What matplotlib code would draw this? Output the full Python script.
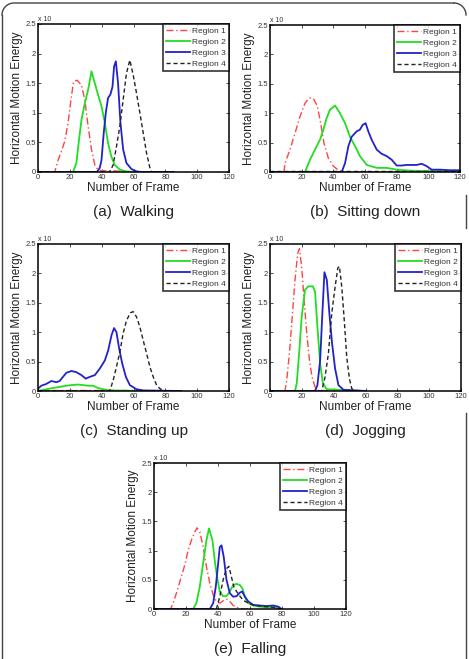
import matplotlib
matplotlib.use("Agg")
import matplotlib.pyplot as plt
import numpy as np
from matplotlib.lines import Line2D

plt.rcParams['font.family'] = ['Liberation Sans', 'DejaVu Sans']

W, H = 469, 659

labels = ["Region 1", "Region 2", "Region 3", "Region 4"]
captions = ["(a)  Walking", "(b)  Sitting down", "(c)  Standing up", "(d)  Jogging", "(e)  Falling"]
xticks = [0, 20, 40, 60, 80, 100, 120]
yticks = [0, 0.5, 1, 1.5, 2, 2.5]
ytick_labels = ["0", "0.5", "1", "1.5", "2", "2.5"]

# values in units of 10^4
# (a) walking
walk_r1_x = [0, 10.5, 12.6, 14.7, 16.8, 18.9, 21, 22.4, 24.5, 27.3, 29.4, 31.5, 33.6, 35.7, 37.8, 42, 48, 55, 58]
walk_r1_y = [0, 0, 0.2, 0.35, 0.52, 0.83, 1.28, 1.53, 1.55, 1.47, 1.22, 0.77, 0.38, 0.12, 0.03, 0.02, 0.02, 0, 0]
walk_r2_x = [0, 22, 24.1, 25.8, 27.3, 29.4, 31.5, 33.6, 35.7, 37.8, 39.9, 42, 44, 46.1, 48.2, 51.4, 55.6, 60, 85]
walk_r2_y = [0, 0, 0.15, 0.55, 0.88, 1.16, 1.39, 1.70, 1.5, 1.30, 1.11, 0.83, 0.49, 0.26, 0.12, 0.04, 0.01, 0, 0]
walk_r3_x = [0, 37, 38.8, 39.9, 41.3, 42.6, 44, 45.5, 46.8, 47.8, 48.9, 50.3, 51.8, 53.5, 55.6, 58.7, 61.9, 65, 85]
walk_r3_y = [0, 0, 0.07, 0.2, 0.66, 1.0, 1.25, 1.31, 1.44, 1.78, 1.87, 1.5, 0.83, 0.38, 0.15, 0.05, 0.01, 0, 0]
walk_r4_x = [0, 45.1, 47.2, 49.3, 51.4, 53.5, 55.6, 57.7, 59.8, 61.9, 64, 66.1, 68.2, 70.3, 71.3, 85]
walk_r4_y = [0, 0, 0.12, 0.43, 0.77, 1.22, 1.67, 1.89, 1.64, 1.33, 1.0, 0.66, 0.32, 0.07, 0, 0]

# (b) sitting down
sit_r1_x = [0, 8.8, 9.5, 12.6, 15.8, 18.9, 22.1, 24.8, 27.4, 29.9, 32, 34.1, 36.8, 40, 43.2, 46, 120]
sit_r1_y = [0, 0, 0.15, 0.38, 0.66, 0.94, 1.17, 1.26, 1.25, 1.12, 0.83, 0.49, 0.24, 0.1, 0.03, 0, 0]
sit_r2_x = [0, 22.1, 25.3, 28.4, 31.6, 33.7, 35.8, 37.9, 41.1, 44.2, 47.4, 50.5, 53.7, 56.8, 61.1, 67.4, 73.7, 80, 90.5, 120]
sit_r2_y = [0, 0, 0.21, 0.38, 0.55, 0.72, 0.92, 1.06, 1.13, 1.0, 0.83, 0.6, 0.44, 0.27, 0.12, 0.07, 0.07, 0.04, 0.02, 0.01]
sit_r3_x = [0, 45.3, 47.4, 49.5, 51.6, 54.7, 56.8, 58.5, 60.4, 62.1, 64.2, 67.4, 70.5, 73.7, 76.8, 80, 83.2, 86.3,
            89.5, 92.6, 95.8, 98.9, 102.1, 107.4, 113.7, 120]
sit_r3_y = [0, 0, 0.15, 0.44, 0.6, 0.69, 0.72, 0.8, 0.83, 0.69, 0.55, 0.38, 0.31, 0.27, 0.21, 0.11, 0.11, 0.12,
            0.12, 0.12, 0.14, 0.1, 0.04, 0.04, 0.03, 0.03]
sit_r4_x = [0, 120]
sit_r4_y = [0.01, 0.01]

# (c) standing up
stand_r1_x = [0, 60]
stand_r1_y = [0.01, 0.01]
stand_r2_x = [0, 5.2, 9.4, 13.6, 17.8, 21, 25.2, 28.3, 31.5, 34.6, 37.8, 40.9, 45.1, 65]
stand_r2_y = [0, 0.03, 0.05, 0.07, 0.09, 0.10, 0.11, 0.1, 0.09, 0.09, 0.05, 0.03, 0.01, 0]
stand_r3_x = [0, 2.1, 5.2, 8.4, 11.5, 13.6, 15.7, 17.8, 21, 24.1, 27.3, 30, 32.5, 35.7, 38.8, 42, 44.1, 46.2,
              47.8, 49.3, 51, 52.9, 55.2, 57.7, 61.9, 66.1, 90]
stand_r3_y = [0.04, 0.09, 0.12, 0.17, 0.15, 0.17, 0.24, 0.31, 0.34, 0.32, 0.27, 0.21, 0.24, 0.27, 0.38, 0.52,
              0.69, 0.95, 1.07, 1.0, 0.72, 0.47, 0.24, 0.1, 0.03, 0.01, 0]
stand_r4_x = [0, 45.1, 47.2, 49.3, 51.4, 53.5, 55.6, 58.1, 59.8, 61.9, 64, 66.1, 68.2, 70.3, 72.4, 74.5, 76.6, 78.7, 80]
stand_r4_y = [0, 0, 0.18, 0.41, 0.66, 0.98, 1.2, 1.33, 1.35, 1.26, 1.09, 0.86, 0.64, 0.41, 0.24, 0.1, 0.04, 0.01, 0]

# (d) jogging
jog_r1_x = [0, 9.4, 10.5, 12.2, 13.8, 15.7, 17.4, 18.5, 19.9, 21.4, 23.1, 24.8, 26.4, 28.3, 30.4, 40]
jog_r1_y = [0, 0, 0.18, 0.64, 1.2, 1.89, 2.34, 2.42, 2.11, 1.55, 0.98, 0.52, 0.24, 0.07, 0.01, 0]
jog_r2_x = [0, 15.7, 16.8, 18.3, 19.9, 22, 24.1, 26.9, 28.3, 29.8, 31.5, 33.2, 35.7, 60]
jog_r2_y = [0, 0, 0.13, 0.64, 1.26, 1.72, 1.78, 1.78, 1.69, 1.09, 0.47, 0.13, 0.03, 0]
jog_r3_x = [0, 28.3, 29.8, 31.5, 32.9, 34.2, 35.7, 37.3, 39, 40.9, 43, 46.2, 60]
jog_r3_y = [0, 0, 0.1, 0.52, 1.32, 2.02, 1.89, 1.32, 0.81, 0.38, 0.1, 0.02, 0]
jog_r4_x = [0, 32.5, 34.6, 36.7, 38.8, 40.9, 42.6, 43.6, 45.1, 46.8, 48.2, 49.9, 51.4, 53]
jog_r4_y = [0, 0, 0.24, 0.64, 1.32, 1.77, 2.09, 2.12, 1.77, 1.15, 0.58, 0.21, 0.04, 0]

# (e) falling
fall_r1_x = [0, 10.4, 11.9, 14, 16.5, 19.2, 21.3, 23.4, 25.5, 26.9, 28.6, 30.7, 32.8, 34.9, 37, 39, 41.1, 43.2,
             45.3, 47.4, 49.5, 52.6, 56, 60]
fall_r1_y = [0, 0, 0.1, 0.27, 0.5, 0.75, 1.0, 1.18, 1.32, 1.39, 1.32, 1.07, 0.72, 0.44, 0.24, 0.13, 0.1, 0.14,
             0.17, 0.13, 0.06, 0.02, 0, 0]
fall_r2_x = [0, 24.4, 26.5, 28.6, 30.7, 32.8, 34.4, 36.5, 38.2, 39.7, 41.1, 43.2, 45.3, 47.4, 49.5, 51.6, 53.7,
             55.3, 56.8, 58.9, 62, 66.2, 70.4, 74.5, 79.7]
fall_r2_y = [0, 0, 0.1, 0.38, 0.78, 1.18, 1.38, 1.18, 0.78, 0.5, 0.3, 0.22, 0.22, 0.3, 0.41, 0.43, 0.41,
             0.35, 0.21, 0.1, 0.06, 0.04, 0.03, 0.03, 0]
fall_r3_x = [0, 34.9, 37, 38.6, 40.1, 41.1, 42.2, 43.6, 45.3, 47.4, 49.5, 51.6, 53.7, 55.1, 56.8, 58.9, 62,
             66.2, 70.4, 74.5, 77.7, 79.7]
fall_r3_y = [0, 0, 0.1, 0.38, 0.78, 1.06, 1.09, 0.89, 0.5, 0.27, 0.21, 0.22, 0.28, 0.3, 0.21, 0.13, 0.07,
             0.06, 0.05, 0.06, 0.04, 0]
fall_r4_x = [0, 39, 41.1, 43.2, 45.3, 46.8, 48.4, 49.9, 51.6, 53.7, 55.7, 58.9, 62, 66.2, 70.4, 74.5, 79.7]
fall_r4_y = [0, 0, 0.21, 0.5, 0.69, 0.73, 0.55, 0.38, 0.3, 0.22, 0.15, 0.1, 0.07, 0.05, 0.04, 0.03, 0]

panels = [
    [(walk_r1_x, walk_r1_y), (walk_r2_x, walk_r2_y), (walk_r3_x, walk_r3_y), (walk_r4_x, walk_r4_y)],
    [(sit_r1_x, sit_r1_y), (sit_r2_x, sit_r2_y), (sit_r3_x, sit_r3_y), (sit_r4_x, sit_r4_y)],
    [(stand_r1_x, stand_r1_y), (stand_r2_x, stand_r2_y), (stand_r3_x, stand_r3_y), (stand_r4_x, stand_r4_y)],
    [(jog_r1_x, jog_r1_y), (jog_r2_x, jog_r2_y), (jog_r3_x, jog_r3_y), (jog_r4_x, jog_r4_y)],
    [(fall_r1_x, fall_r1_y), (fall_r2_x, fall_r2_y), (fall_r3_x, fall_r3_y), (fall_r4_x, fall_r4_y)],
]

styles = [
    dict(color='#ff4444', ls=(0, (5, 2, 1, 2)), lw=1.0),
    dict(color='#22dd22', ls='-', lw=1.3),
    dict(color='#2222cc', ls='-', lw=1.3),
    dict(color='#222222', ls=(0, (3, 2)), lw=1.0),
]

# axes boxes in pixels: left, top, right, bottom
boxes = [(38, 24, 229, 172), (270, 25, 460, 172), (38, 244, 229, 391),
         (270, 244, 461, 391), (154, 463, 346, 609)]

fig = plt.figure(figsize=(W / 100, H / 100), dpi=100)

for i in range(5):
    l, t, r, b = boxes[i]
    ax = fig.add_axes([l / W, 1 - b / H, (r - l) / W, (b - t) / H])
    for (x, y), st, lab in zip(panels[i], styles, labels):
        ax.plot(x, y, label=lab, **st)
    ax.set_xlim(0, 120)
    ax.set_ylim(0, 2.5)
    ax.set_xticks(xticks)
    ax.set_yticks(yticks)
    ax.set_yticklabels(ytick_labels)
    ax.tick_params(direction='in', top=True, right=True, length=2.5, width=0.6,
                   labelsize=5.5, colors='#333333', pad=1.5)
    for s in ax.spines.values():
        s.set_linewidth(1.1)
    ax.set_xlabel("Number of Frame", fontsize=8.5, labelpad=1, color='#222222')
    ax.set_ylabel("Horizontal Motion Energy", fontsize=8.5, labelpad=2, color='#222222')
    ax.text(0.0, 1.01, "x 10", transform=ax.transAxes, fontsize=5, ha='left', va='bottom', color='#333333')
    leg = ax.legend(loc='upper right', prop={'family': 'Liberation Sans', 'size': 6}, borderaxespad=0,
                    frameon=True, fancybox=False, handlelength=2.8, handletextpad=0.3,
                    labelspacing=0.38, borderpad=0.35)
    leg.get_frame().set_edgecolor('black')
    leg.get_frame().set_linewidth(1.2)
    for txt in leg.get_texts():
        txt.set_color('#333333')
    cx = (l + r) / 2 / W
    fig.text(cx, 1 - (b + 40) / H, captions[i], fontsize=11, ha='center', va='center', color='#222222')

# scanned figure border
def fline(xs, ys):
    fig.add_artist(Line2D(np.array(xs) / W, 1 - np.array(ys) / H, color='#444444', lw=1.0))

rad = 12
th = np.linspace(np.pi, np.pi / 2, 20)
fline(list(2 + rad + rad * np.cos(th)) + [454], list(3 + rad - rad * np.sin(th)) + [3])
fline([2, 2], [3 + rad, 659])
th2 = np.linspace(np.pi / 2, 0, 20)
fline([454] + list(454 + rad * np.cos(th2)), [3] + list(3 + rad - rad * np.sin(th2)))
fline([466, 466], [195, 228])
fline([466, 466], [413, 659])

fig.savefig("out.png", dpi=100)
